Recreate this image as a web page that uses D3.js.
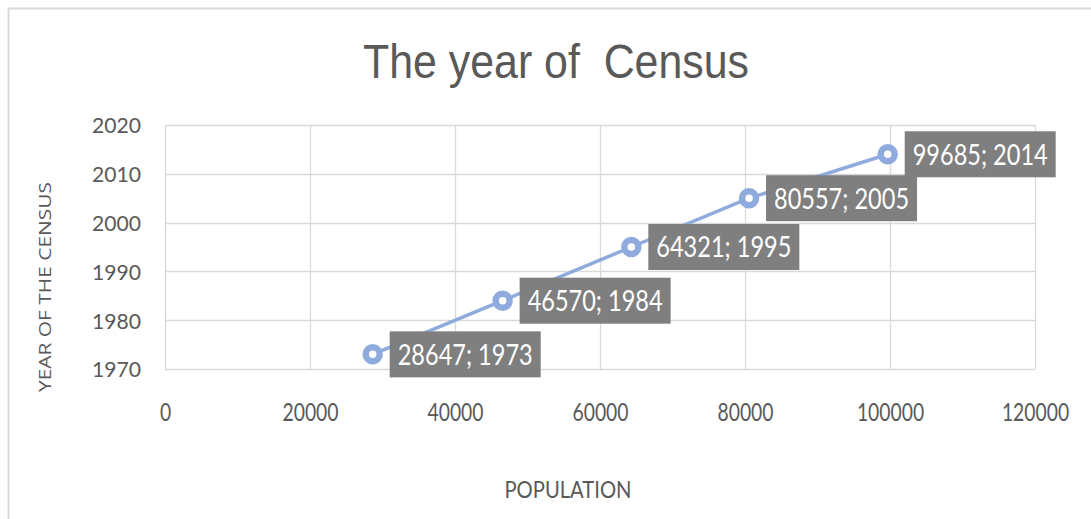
<!DOCTYPE html>
<html>
<head>
<meta charset="utf-8">
<script src="https://cdn.jsdelivr.net/npm/d3@7"></script>
<style>
  html, body { margin: 0; padding: 0; background: #fff; }
  svg { display: block; }
</style>
</head>
<body>
<svg id="chart" width="1091" height="519"></svg>
<script>
// Census data: population against the census year
const population = [28647, 46570, 64321, 80557, 99685];
const censusYear = [1973, 1984, 1995, 2005, 2014];
const xTicks = [0, 20000, 40000, 60000, 80000, 100000, 120000];
const yTicks = [1970, 1980, 1990, 2000, 2010, 2020];

const chartTitle = "The year of\u00a0\u00a0Census";
const xTitle = "POPULATION";
const yTitle = "YEAR OF THE CENSUS";

const svg = d3.select("#chart");
const W = 1091, H = 519;
const plot = { left: 165, right: 1035, top: 125, bottom: 369 };

const x = d3.scaleLinear().domain([0, 120000]).range([plot.left, plot.right]);
const y = d3.scaleLinear().domain([1970, 2020]).range([plot.bottom, plot.top]);

const textGray = "#595959";
const gridGray = "#d9d9d9";
const lineBlue = "#8faadc";

// outer chart frame (left and top edges visible)
svg.append("path")
  .attr("d", `M8.5,${H} L8.5,8.5 L${W},8.5`)
  .attr("fill", "none")
  .attr("stroke", gridGray)
  .attr("stroke-width", 2);

// title
svg.append("text")
  .attr("x", 556).attr("y", 78)
  .attr("text-anchor", "middle")
  .attr("font-family", "'Liberation Sans', Arial, sans-serif")
  .attr("font-size", 49)
  .attr("fill", textGray)
  .attr("textLength", 386)
  .attr("lengthAdjust", "spacingAndGlyphs")
  .text(chartTitle);

// gridlines
const grid = svg.append("g");
grid.selectAll("line.h").data(yTicks).join("line")
  .attr("x1", plot.left).attr("x2", plot.right)
  .attr("y1", d => Math.round(y(d)) + 0.5).attr("y2", d => Math.round(y(d)) + 0.5)
  .attr("stroke", gridGray).attr("stroke-width", 1.3);
grid.selectAll("line.v").data(xTicks).join("line")
  .attr("y1", plot.top).attr("y2", plot.bottom)
  .attr("x1", d => Math.round(x(d)) + 0.5).attr("x2", d => Math.round(x(d)) + 0.5)
  .attr("stroke", gridGray).attr("stroke-width", 1.3);

// x axis tick labels (narrow digits)
const xAxis = d3.axisBottom(x).tickValues(xTicks).tickSize(0).tickPadding(0).tickFormat(d3.format("d"));
const gx = svg.append("g").attr("transform", `translate(0,${plot.bottom})`).call(xAxis);
gx.select(".domain").remove();
gx.selectAll("text")
  .attr("y", 52)
  .attr("dy", 0)
  .attr("font-family", "Lato, Carlito, sans-serif")
  .attr("font-size", 25)
  .attr("fill", textGray)
  .attr("textLength", d => String(d).length * 11.2)
  .attr("lengthAdjust", "spacingAndGlyphs");

// y axis tick labels
const yAxis = d3.axisLeft(y).tickValues(yTicks).tickSize(0).tickPadding(0).tickFormat(d3.format("d"));
const gy = svg.append("g").attr("transform", `translate(${plot.left},0)`).call(yAxis);
gy.select(".domain").remove();
gy.selectAll("text")
  .attr("x", -24)
  .attr("dy", "0.36em")
  .attr("font-family", "Lato, Carlito, sans-serif")
  .attr("font-size", 22)
  .attr("fill", textGray)
  .attr("textLength", 49)
  .attr("lengthAdjust", "spacingAndGlyphs");

// axis titles
svg.append("text")
  .attr("x", 568).attr("y", 498)
  .attr("text-anchor", "middle")
  .attr("font-family", "Lato, Carlito, sans-serif")
  .attr("font-size", 23)
  .attr("fill", textGray)
  .attr("textLength", 127)
  .attr("lengthAdjust", "spacingAndGlyphs")
  .text(xTitle);

svg.append("text")
  .attr("transform", `translate(51,287) rotate(-90)`)
  .attr("text-anchor", "middle")
  .attr("font-family", "'Open Sans', Lato, sans-serif")
  .attr("font-size", 17)
  .attr("fill", textGray)
  .attr("textLength", 210)
  .attr("lengthAdjust", "spacingAndGlyphs")
  .text(yTitle);

// series line
const pts = population.map((p, i) => ({ p, yr: censusYear[i] }));
svg.append("path")
  .datum(pts)
  .attr("d", d3.line().x(d => x(d.p)).y(d => y(d.yr)))
  .attr("fill", "none")
  .attr("stroke", lineBlue)
  .attr("stroke-width", 3.5);

// markers
svg.append("g").selectAll("circle").data(pts).join("circle")
  .attr("cx", d => x(d.p)).attr("cy", d => y(d.yr))
  .attr("r", 7)
  .attr("fill", "#fff")
  .attr("stroke", lineBlue)
  .attr("stroke-width", 6.5);

// data labels: dark gray boxes with white text
const labels = svg.append("g").selectAll("g").data(pts).join("g")
  .attr("transform", d => `translate(${x(d.p) + 17},${y(d.yr)})`);
labels.append("rect")
  .attr("x", 0).attr("y", -23)
  .attr("width", 151).attr("height", 46)
  .attr("fill", "#7f7f7f");
labels.append("text")
  .attr("x", 8).attr("y", 0)
  .attr("dy", "0.37em")
  .attr("font-family", "Lato, Carlito, sans-serif")
  .attr("font-size", 28)
  .attr("fill", "#fff")
  .attr("textLength", 135)
  .attr("lengthAdjust", "spacingAndGlyphs")
  .text(d => `${d.p}; ${d.yr}`);
</script>
</body>
</html>
